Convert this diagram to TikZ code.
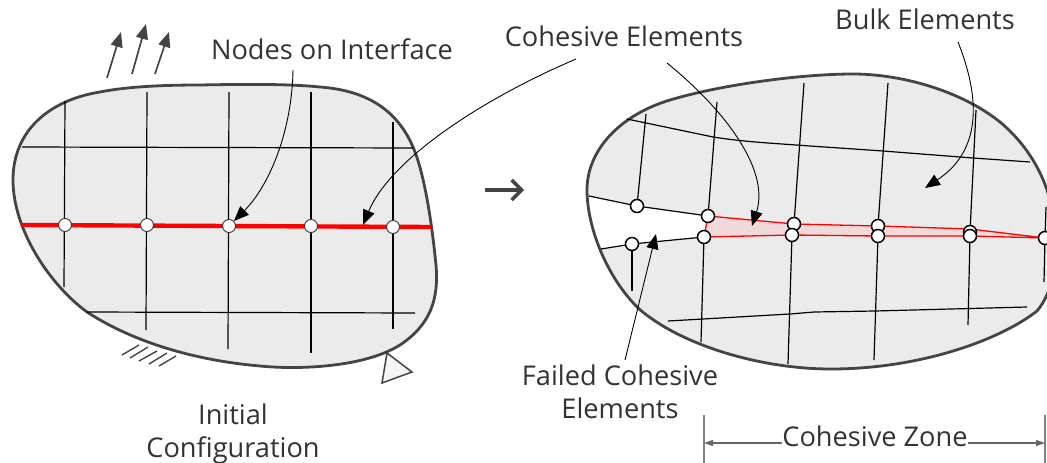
\documentclass[tikz,border=0pt]{standalone}
\usepackage{fontspec}
\setmainfont{Open Sans}
\usetikzlibrary{arrows.meta}
\definecolor{bodyline}{HTML}{444444}
\definecolor{bodyfill}{HTML}{EBEBEB}
\definecolor{labeltext}{HTML}{333333}
\definecolor{zonefill}{HTML}{F2D9D9}
\begin{document}
\begin{tikzpicture}[x=1pt,y=-1pt,font=\fontsize{27.2}{33}\selectfont]
      \tikzset{body/.style={draw=bodyline, line width=2.8pt, fill=bodyfill},
        grid/.style={black, line width=1.2pt},
        label/.style={text=labeltext, align=center, inner sep=0pt},
        leader/.style={black, line width=0.9pt, -{Triangle[length=15pt,width=12pt]}},
        load/.style={bodyline, line width=1.7pt, -{Triangle[length=15pt,width=12pt]}},
        hatch/.style={bodyline, line width=1.4pt},
        dim/.style={black!60, line width=1.1pt, -{Triangle[length=9pt,width=6pt]}},
        orig/.style={circle, draw=black!80, line width=0.9pt, fill=white, minimum size=13pt, inner sep=0pt},
        open/.style={circle, draw=black, line width=1.5pt, fill=white, minimum size=13pt, inner sep=0pt}}
      \useasboundingbox (0,0) rectangle (1047,463);
      \draw[body] (200,85) .. controls (250,84) and (290,84) .. (320,87)
        .. controls (360,90) and (395,105) .. (413,147)
        .. controls (425,175) and (432,225) .. (436,265)
        .. controls (439,300) and (430,325) .. (400,345)
        .. controls (365,367) and (300,370) .. (260,366)
        .. controls (190,360) and (130,340) .. (87,312)
        .. controls (50,285) and (13,230) .. (13,180)
        .. controls (13,130) and (50,100) .. (100,92)
        .. controls (130,86) and (170,85) .. (200,85) -- cycle;
      \foreach \xa/\ya/\xb/\yb in {65/101/64/287, 147/92/146/330, 229/92/228/349, 311/92/311/353, 393/122/393/329}
        \draw[grid] (\xa,\ya) -- (\xb,\yb);
      \draw[grid] (22,147) -- (413,148);
      \draw[grid] (87,312) -- (415,313);
      \coordinate (rl) at (22,225);
      \coordinate (rr) at (431,227);
      \draw[red, line width=4.4pt] (rl) -- (rr);
      \node[orig] (n1) at (65,225) {};
      \node[orig] (n2) at (147,225) {};
      \node[orig] (n3) at (229,226) {};
      \node[orig] (n4) at (311,226) {};
      \node[orig] (n5) at (393,227) {};
      \draw[load] (107,78) -- (121,32);
      \draw[load] (132,74) -- (146,24);
      \draw[load] (155,74) -- (169,32);
      \draw[hatch] (139,345) -- (122,355);
      \draw[hatch] (148,347) -- (130,358);
      \draw[hatch] (157,351) -- (139,361);
      \draw[hatch] (167,353) -- (149,364);
      \draw[hatch] (176,356) -- (159,366);
      \draw[bodyline, line width=1.5pt, fill=black!4] (387,353) -- (412,372) -- (382,383) -- cycle;
      \node[label] (nodeslabel) at (332,49) {Nodes on Interface};
      \node[label] (initlabel) at (233,434) {Initial\\Configuration};
      \draw[bodyline, line width=3.4pt, -{Straight Barb[length=10pt,width=20pt]}] (485,190) -- (524,190);
      \def\rightbody{(853,74) .. controls (900,74) and (960,90) .. (1000,122)
        .. controls (1030,147) and (1047,180) .. (1052,210)
        .. controls (1060,250) and (1055,290) .. (1037,311)
        .. controls (1000,340) and (920,369) .. (831,369)
        .. controls (760,369) and (680,345) .. (638,308)
        .. controls (605,275) and (587,225) .. (587,190)
        .. controls (587,150) and (620,115) .. (670,100)
        .. controls (720,85) and (800,74) .. (853,74) -- cycle}
      \fill[bodyfill] \rightbody;
      \fill[white] (580,195) -- (637,206) -- (708,216) -- (704,237) -- (632,244) -- (598,250) -- cycle;
      \draw[bodyline, line width=2.8pt] \rightbody;
      \draw[red, line width=1.3pt, fill=zonefill] (708,216) -- (794,224) -- (878,226) -- (970,229) -- (1045,238) -- (970,236) -- (878,236) -- (792,235) -- (704,237) -- cycle;
      \node[open] (a1) at (637,206) {};
      \node[open] (a2) at (708,216) {};
      \node[open] (a3) at (794,224) {};
      \node[open] (a4) at (878,226) {};
      \node[open] (a5) at (970,232) {};
      \node[open] (b1) at (632,244) {};
      \node[open] (b2) at (704,237) {};
      \node[open] (b3) at (792,235) {};
      \node[open] (b4) at (878,236) {};
      \node[open] (b5) at (970,236) {};
      \node[open] (tip) at (1045,238) {};
      \foreach \xa/\ya/\n in {646/114/a1, 717/102/a2, 804/83/a3, 888/83/a4, 976/110/a5}
        \draw[grid] (\xa,\ya) -- (\n);
      \foreach \n/\xb/\yb in {b1/632/291, b2/701/342, b3/788/364, b4/874/360, b5/968/325, tip/1044/282}
        \draw[grid] (\n) -- (\xb,\yb);
      \draw[grid] (1046,207) -- (tip);
      \draw[grid] (589,196) -- (a1) -- (a2);
      \draw[grid] (601,249) -- (b1) -- (b2);
      \draw[grid] (627,119) -- (713,137) .. controls (745,142) and (770,143) .. (810,146) -- (883,151) -- (973,158) -- (1030,162);
      \draw[grid] (668,321) -- (790,314) -- (814,312) -- (875,311) -- (1027,307);
      \node[label] (cohlabel) at (624,36) {Cohesive Elements};
      \node[label] (bulklabel) at (925,19) {Bulk Elements};
      \node[label] (failedlabel) at (620,392) {Failed Cohesive\\Elements};
      \coordinate (nodesfrom) at (293,70);
      \coordinate (cohfroma) at (576,59);
      \coordinate (cohfromb) at (667,63);
      \coordinate (cohto) at (363,225);
      \coordinate (zoneto) at (752,226);
      \coordinate (bulkfrom) at (958,42);
      \coordinate (bulkto) at (925,188);
      \coordinate (failedfrom) at (625,360);
      \coordinate (failedto) at (656,234);
      \draw[leader] (nodesfrom) .. controls (292,130) and (270,185) .. (n3.north east);
      \draw[leader] (cohfroma) .. controls (480,100) and (390,160) .. (cohto);
      \draw[leader] (cohfromb) .. controls (725,110) and (770,170) .. (zoneto);
      \draw[leader] (bulkfrom) .. controls (985,110) and (975,155) .. (bulkto);
      \draw[leader] (failedfrom) -- (failedto);
      \coordinate (zl) at (704,443);
      \coordinate (zr) at (1045,443);
      \node[label] (zonelabel) at (875,436) {Cohesive Zone};
      \draw[black!50, line width=1.1pt] (704,415) -- (704,463);
      \draw[black!50, line width=1.1pt] (1045,415) -- (1045,463);
      \draw[dim] (zonelabel.west |- zl) -- (zl);
      \draw[dim] (zonelabel.east |- zr) -- (zr);
    \end{tikzpicture}
\end{document}
